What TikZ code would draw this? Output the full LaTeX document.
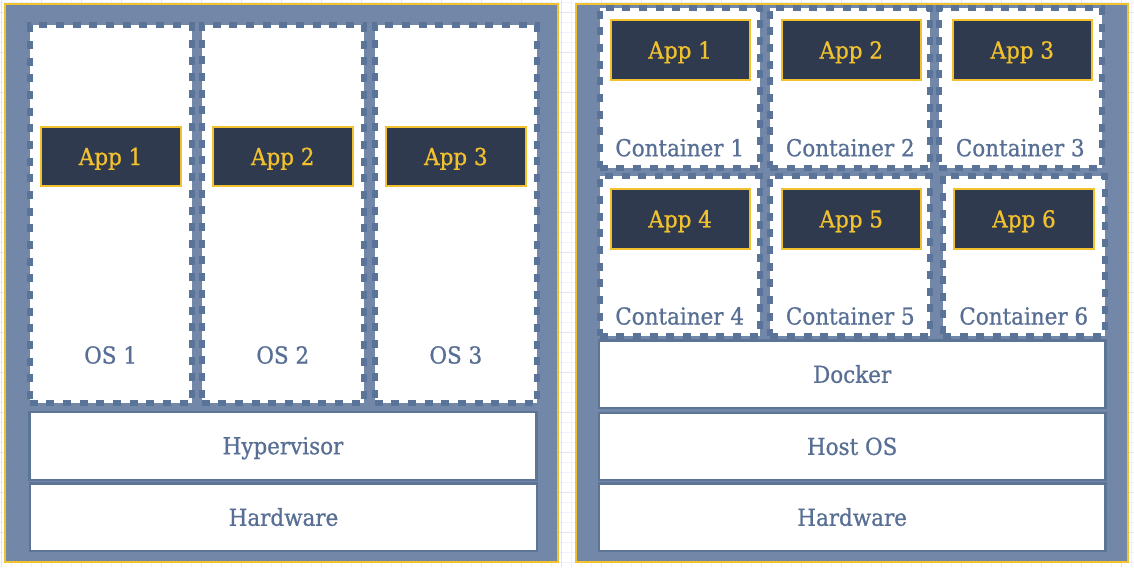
\documentclass[tikz,border=0pt]{standalone}
\usepackage{fontspec}
\setmainfont{DejaVu Serif}[FakeStretch=0.92,FakeBold=0.8]
\definecolor{panelc}{HTML}{687EA2}
\definecolor{dashc}{HTML}{5A7499}
\definecolor{boxc}{HTML}{5C7596}
\definecolor{appfill}{HTML}{2F3A4E}
\definecolor{ylw}{HTML}{F2C12E}
\definecolor{lblc}{HTML}{586F95}
\definecolor{gridminor}{HTML}{F0F0FA}
\definecolor{gridmajor}{HTML}{E3E3F3}
\newcommand{\mkbox}[7]{\node[#1, minimum width={((#5)-(#3))*0.75pt}, minimum height={((#6)-(#4))*0.75pt}] (#2) at ({((#3)+(#5))/2},{((#4)+(#6))/2}) {#7};}
\tikzset{
  txt/.style={font=\fontsize{17.5}{20}\selectfont, text height=12.76pt, text depth=0pt, inner sep=0pt},
  panelbox/.style={draw=ylw, line width=1.5pt, fill=panelc, fill opacity=0.93, rectangle, inner sep=0pt},
  dashbox/.style={draw=dashc, line width=4.5pt, dash pattern=on 6pt off 6.5pt, fill=white, rectangle, inner sep=0pt},
  appbox/.style={draw=ylw, line width=1.5pt, fill=appfill, text=ylw, rectangle, txt},
  barbox/.style={draw=boxc, line width=1.7pt, fill=white, text=lblc, rectangle, txt},
  lbl/.style={text=lblc, txt},
}
\begin{document}
\begin{tikzpicture}[x=0.75pt,y=-0.75pt]
\useasboundingbox (0,0) rectangle (1134,567);
% grid
\foreach \i in {0,...,113} { \draw[gridminor, line width=0.6pt] ({\i*10+1},0) -- ({\i*10+1},567); }
\foreach \j in {0,...,56} { \draw[gridminor, line width=0.6pt] (0,{\j*10+2.7}) -- (1134,{\j*10+2.7}); }
\foreach \i in {0,...,28} { \draw[gridmajor, line width=0.6pt] ({\i*40+1},0) -- ({\i*40+1},567); }
\foreach \j in {0,...,14} { \draw[gridmajor, line width=0.6pt] (0,{\j*40+12.7}) -- (1134,{\j*40+12.7}); }
% panels
\mkbox{panelbox}{lpanel}{5}{3.8}{558.3}{562}{}
\mkbox{panelbox}{rpanel}{575.8}{3.8}{1128}{562}{}
% left: virtual machines
\mkbox{dashbox}{os1}{29.7}{25.5}{191.5}{403}{}
\mkbox{dashbox}{os2}{201.5}{25.5}{364}{403}{}
\mkbox{dashbox}{os3}{374.7}{25.5}{537}{403}{}
\mkbox{appbox}{lapp1}{40.6}{127}{180.6}{186}{App 1}
\mkbox{appbox}{lapp2}{212.75}{127}{352.75}{186}{App 2}
\mkbox{appbox}{lapp3}{385.85}{127}{525.85}{186}{App 3}
\node[lbl] (os1l) at (110.6,355) {OS 1};
\node[lbl] (os2l) at (282.75,355) {OS 2};
\node[lbl] (os3l) at (455.85,355) {OS 3};
\mkbox{barbox}{hyper}{29.5}{411.7}{536.5}{479.7}{Hypervisor}
\mkbox{barbox}{lhw}{30}{483.5}{537}{551}{Hardware}
% right: containers
\mkbox{dashbox}{c1}{599.7}{7.8}{759.7}{168.3}{}
\mkbox{dashbox}{c2}{770.3}{7.8}{930.3}{168.3}{}
\mkbox{dashbox}{c3}{938.5}{7.8}{1102}{168.3}{}
\mkbox{dashbox}{c4}{599.7}{175.7}{759.7}{335.5}{}
\mkbox{dashbox}{c5}{770.3}{175.7}{930.3}{335.5}{}
\mkbox{dashbox}{c6}{943}{175.7}{1104.5}{335.5}{}
\mkbox{appbox}{rapp1}{610.5}{20.3}{749.8}{79.7}{App 1}
\mkbox{appbox}{rapp2}{781.5}{20.3}{921}{79.7}{App 2}
\mkbox{appbox}{rapp3}{952.5}{20.3}{1092}{79.7}{App 3}
\mkbox{appbox}{rapp4}{610.5}{189.3}{749.8}{248.5}{App 4}
\mkbox{appbox}{rapp5}{781.5}{189.3}{921}{248.5}{App 5}
\mkbox{appbox}{rapp6}{954.3}{189.3}{1093.7}{248.5}{App 6}
\node[lbl] (c1l) at (679.7,147.7) {Container 1};
\node[lbl] (c2l) at (850.3,147.7) {Container 2};
\node[lbl] (c3l) at (1020.25,147.7) {Container 3};
\node[lbl] (c4l) at (679.7,316) {Container 4};
\node[lbl] (c5l) at (850.3,316) {Container 5};
\node[lbl] (c6l) at (1023.75,316) {Container 6};
\mkbox{barbox}{docker}{598.8}{340.5}{1105.5}{408}{Docker}
\mkbox{barbox}{hostos}{598.8}{412.7}{1105.5}{480}{Host OS}
\mkbox{barbox}{rhw}{598.8}{483.5}{1105.5}{551}{Hardware}
\end{tikzpicture}
\end{document}
